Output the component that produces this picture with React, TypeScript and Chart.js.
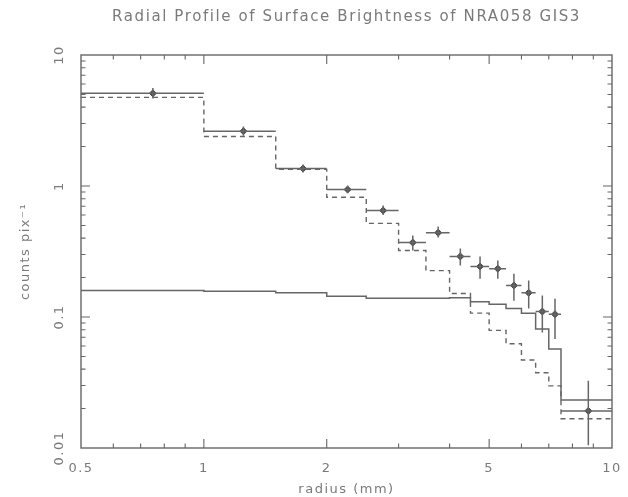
import React, { useEffect, useRef } from 'react';
import { Chart, registerables } from 'chart.js';

Chart.register(...registerables);

// ---- data ----
const binEdges = [0.5, 1, 1.5, 2, 2.5, 3, 3.5, 4, 4.5, 5, 5.5, 6, 6.5, 7, 7.5, 10];
const radiusCenters = [0.75, 1.25, 1.75, 2.25, 2.75, 3.25, 3.75, 4.25, 4.75, 5.25, 5.75, 6.25, 6.75, 7.25, 8.75];
const observed = [5.1, 2.62, 1.36, 0.94, 0.65, 0.37, 0.44, 0.29, 0.243, 0.234, 0.174, 0.153, 0.11, 0.105, 0.0192];
const observedLow = [4.65, 2.42, 1.27, 0.88, 0.6, 0.322, 0.404, 0.247, 0.196, 0.196, 0.133, 0.116, 0.076, 0.068, 0.0105];
const observedHigh = [5.6, 2.85, 1.46, 1.01, 0.71, 0.419, 0.491, 0.333, 0.29, 0.27, 0.214, 0.19, 0.146, 0.138, 0.0326];
const clusterModel = [4.75, 2.39, 1.34, 0.82, 0.518, 0.322, 0.226, 0.151, 0.107, 0.079, 0.0625, 0.047, 0.0375, 0.0298, 0.0167];
const backgroundModel = [0.159, 0.157, 0.153, 0.144, 0.139, 0.139, 0.139, 0.14, 0.131, 0.125, 0.116, 0.107, 0.081, 0.057, 0.0233];

const xTickLabels = [0.5, 1, 2, 5, 10];
const yTickLabels = [0.01, 0.1, 1, 10];
const xMajorTicks = [1, 2, 5];
const xMinorTicks = [0.6, 0.7, 0.8, 0.9, 3, 4, 6, 7, 8, 9];
const yMajorTicks = [0.1, 1];
const yMinorTicks = [
  0.02, 0.03, 0.04, 0.05, 0.06, 0.07, 0.08, 0.09,
  0.2, 0.3, 0.4, 0.5, 0.6, 0.7, 0.8, 0.9,
  2, 3, 4, 5, 6, 7, 8, 9,
];

const titleText = 'Radial Profile of Surface Brightness of NRA058 GIS3';
const xTitle = 'radius (mm)';
const yTitle = 'counts pix\u207B\u00B9';

const LINE = '#666666';
const TEXT = '#7a7a7a';
const FONT = "'DejaVu Sans', sans-serif";

function stepPoints(vals: number[]) {
  const pts = vals.map((v, i) => ({ x: binEdges[i], y: v }));
  pts.push({ x: binEdges[binEdges.length - 1], y: vals[vals.length - 1] });
  return pts;
}

function errorPoints() {
  const pts: { x: number; y: number | null }[] = [];
  observed.forEach((v, i) => {
    const c = radiusCenters[i];
    pts.push({ x: binEdges[i], y: v }, { x: binEdges[i + 1], y: v }, { x: c, y: null });
    pts.push({ x: c, y: observedLow[i] }, { x: c, y: observedHigh[i] }, { x: c, y: null });
  });
  return pts;
}

const framePlugin = {
  id: 'frameTicks',
  beforeDraw(chart: any) {
    chart.ctx.letterSpacing = '1.5px';
  },
  afterDatasetsDraw(chart: any) {
    const { ctx, chartArea, scales } = chart;
    const { left, right, top, bottom } = chartArea;
    const xs = scales.x;
    const ys = scales.y;
    ctx.save();
    ctx.strokeStyle = LINE;
    ctx.lineWidth = 1.4;
    ctx.strokeRect(left, top, right - left, bottom - top);
    ctx.lineWidth = 1.1;
    ctx.beginPath();
    const xt = (vals: number[], len: number) => {
      vals.forEach((v) => {
        const px = xs.getPixelForValue(v);
        ctx.moveTo(px, bottom);
        ctx.lineTo(px, bottom - len);
        ctx.moveTo(px, top);
        ctx.lineTo(px, top + len);
      });
    };
    const yt = (vals: number[], len: number) => {
      vals.forEach((v) => {
        const py = ys.getPixelForValue(v);
        ctx.moveTo(left, py);
        ctx.lineTo(left + len, py);
        ctx.moveTo(right, py);
        ctx.lineTo(right - len, py);
      });
    };
    xt(xMajorTicks, 9);
    xt(xMinorTicks, 4.5);
    yt(yMajorTicks, 9);
    yt(yMinorTicks, 4.5);
    ctx.stroke();

    // rotated y tick labels
    ctx.fillStyle = TEXT;
    ctx.font = `13px ${FONT}`;
    ctx.letterSpacing = '1.5px';
    ctx.textAlign = 'center';
    ctx.textBaseline = 'middle';
    yTickLabels.forEach((v) => {
      const py = ys.getPixelForValue(v);
      ctx.save();
      ctx.translate(left - 21, py);
      ctx.rotate(-Math.PI / 2);
      ctx.fillText(String(v), 0, 0);
      ctx.restore();
    });

    // title
    const ls = 1.6;
    ctx.font = `15px ${FONT}`;
    ctx.letterSpacing = '0px';
    const w = ctx.measureText(titleText).width + ls * titleText.length;
    ctx.letterSpacing = ls + 'px';
    ctx.textAlign = 'left';
    ctx.fillText(titleText, (left + right) / 2 - w / 2, 17);
    ctx.restore();
  },
};

export default function App() {
  const ref = useRef<HTMLCanvasElement | null>(null);
  useEffect(() => {
    if (!ref.current) return;
    Chart.defaults.font.family = FONT;
    Chart.defaults.color = TEXT;
    const chart = new Chart(ref.current, {
      type: 'scatter',
      data: {
        datasets: [
          {
            label: 'background',
            data: stepPoints(backgroundModel),
            showLine: true,
            stepped: 'before',
            borderColor: LINE,
            borderWidth: 1.5,
            pointRadius: 0,
            fill: false,
          },
          {
            label: 'cluster',
            data: stepPoints(clusterModel),
            showLine: true,
            stepped: 'before',
            borderColor: LINE,
            borderWidth: 1.4,
            borderDash: [5, 4],
            pointRadius: 0,
            fill: false,
          },
          {
            label: 'errors',
            data: errorPoints(),
            showLine: true,
            spanGaps: false,
            borderColor: LINE,
            borderWidth: 1.5,
            pointRadius: 0,
            fill: false,
          },
          {
            label: 'observed',
            data: observed.map((v, i) => ({ x: radiusCenters[i], y: v })),
            showLine: false,
            pointStyle: 'rectRot',
            pointRadius: 3.5,
            backgroundColor: '#4a4a4a',
            borderColor: '#4a4a4a',
          },
        ],
      },
      options: {
        responsive: false,
        animation: false,
        devicePixelRatio: 1,
        layout: { padding: { left: 0, right: 16, top: 55, bottom: 0 } },
        plugins: {
          legend: { display: false },
          tooltip: { enabled: false },
          title: { display: false },
        },
        scales: {
          x: {
            type: 'logarithmic',
            min: 0.5,
            max: 10,
            grid: { display: false },
            border: { display: false },
            afterBuildTicks: (s: any) => {
              s.ticks = xTickLabels.map((v) => ({ value: v }));
            },
            afterFit: (s: any) => {
              s.height = 49;
            },
            ticks: {
              autoSkip: false,
              maxRotation: 0,
              padding: 5,
              color: TEXT,
              font: { size: 13 },
              callback: (v: any) => String(v),
            },
            title: {
              display: true,
              text: xTitle,
              color: TEXT,
              font: { size: 13, lineHeight: 1.2 },
              padding: { top: 0, bottom: 0 },
            },
          },
          y: {
            type: 'logarithmic',
            min: 0.01,
            max: 10,
            grid: { display: false },
            border: { display: false },
            afterBuildTicks: (s: any) => {
              s.ticks = yTickLabels.map((v) => ({ value: v }));
            },
            afterFit: (s: any) => {
              s.width = 81;
            },
            ticks: { display: false },
            title: {
              display: true,
              text: yTitle,
              color: TEXT,
              font: { size: 13, lineHeight: 1.2 },
              padding: { top: 18, bottom: 0 },
            },
          },
        },
      },
      plugins: [framePlugin],
    } as any);
    return () => chart.destroy();
  }, []);
  return (
    <div style={{ position: 'absolute', left: 0, top: 0, width: 628, height: 497, background: '#fff' }}>
      <canvas ref={ref} width={628} height={497} />
    </div>
  );
}
